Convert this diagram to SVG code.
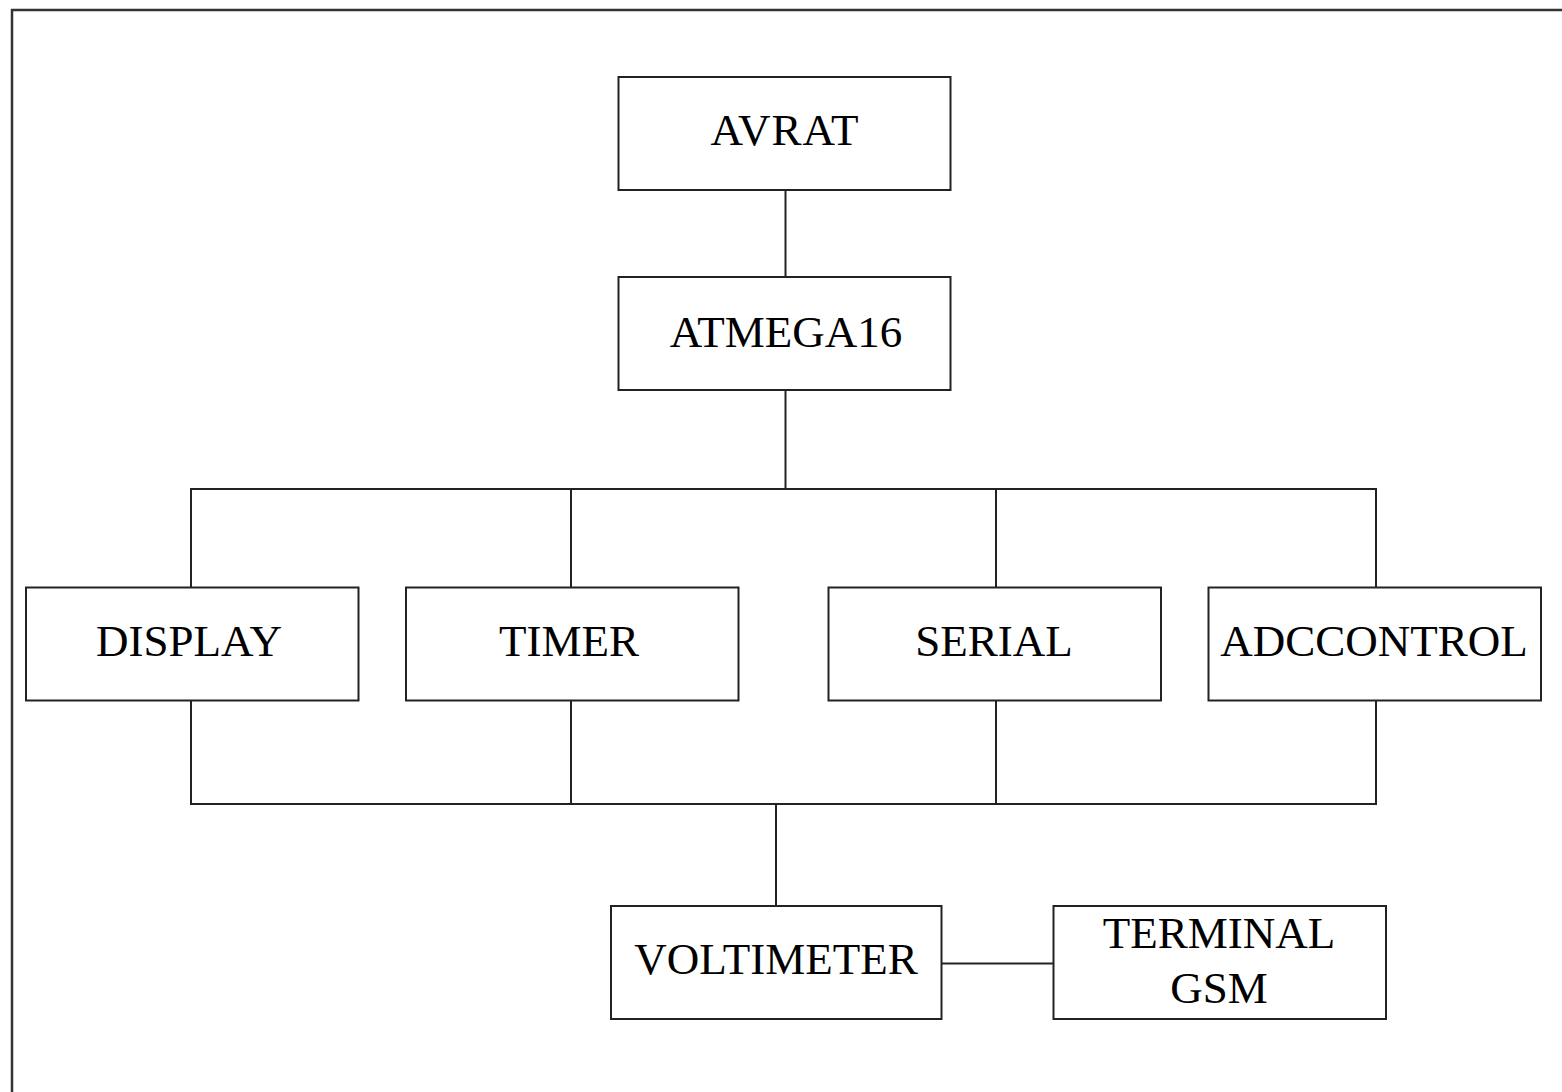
<svg xmlns="http://www.w3.org/2000/svg" width="1562" height="1092" viewBox="0 0 1562 1092">
<style>
.box{fill:#fff;stroke:#222;stroke-width:2}
.frame{fill:none;stroke:#333;stroke-width:2.5}
.wire{fill:none;stroke:#222;stroke-width:2}
text{font-family:"Liberation Serif","Times New Roman",serif;font-size:45px;fill:#000;text-anchor:middle}
</style>
<rect width="1562" height="1092" fill="#fff"/>
<rect class="frame" x="12" y="10" width="1600" height="1120"/>
<g id="connectors">
<line class="wire" x1="785.5" y1="190" x2="785.5" y2="277"/>
<line class="wire" x1="785.5" y1="390" x2="785.5" y2="489"/>
<polyline class="wire" points="191,587 191,489 1376,489 1376,587"/>
<line class="wire" x1="571" y1="489" x2="571" y2="587"/>
<line class="wire" x1="996" y1="489" x2="996" y2="587"/>
<polyline class="wire" points="191,700 191,804 1376,804 1376,700"/>
<line class="wire" x1="571" y1="700" x2="571" y2="804"/>
<line class="wire" x1="996" y1="700" x2="996" y2="804"/>
<line class="wire" x1="776" y1="804" x2="776" y2="906"/>
<line class="wire" x1="941" y1="963.5" x2="1053" y2="963.5"/>
</g>
<g id="avrat">
<rect class="box" x="618.5" y="77" width="332" height="113"/>
<text x="785" y="145" letter-spacing="1">AVRAT</text>
</g>
<g id="atmega16">
<rect class="box" x="618.5" y="277" width="332" height="113"/>
<text x="786" y="347">ATMEGA16</text>
</g>
<g id="display">
<rect class="box" x="26" y="587.5" width="332.5" height="113"/>
<text x="189" y="656">DISPLAY</text>
</g>
<g id="timer">
<rect class="box" x="406" y="587.5" width="332.5" height="113"/>
<text x="569" y="656">TIMER</text>
</g>
<g id="serial">
<rect class="box" x="828.5" y="587.5" width="332.5" height="113"/>
<text x="994" y="656">SERIAL</text>
</g>
<g id="adccontrol">
<rect class="box" x="1208.5" y="587.5" width="332.5" height="113"/>
<text x="1374" y="656">ADCCONTROL</text>
</g>
<g id="voltimeter">
<rect class="box" x="611" y="906" width="330.5" height="113"/>
<text x="776" y="974">VOLTIMETER</text>
</g>
<g id="terminal-gsm">
<rect class="box" x="1053.5" y="906" width="332.5" height="113"/>
<text x="1219" y="948">TERMINAL</text>
<text x="1219" y="1003">GSM</text>
</g>
</svg>
